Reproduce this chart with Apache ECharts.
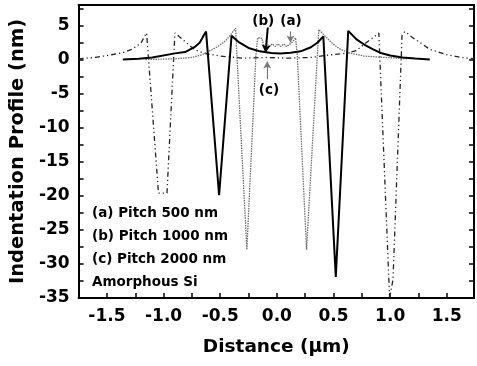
<!DOCTYPE html>
<html>
<head>
<meta charset="utf-8">
<script src="https://cdn.jsdelivr.net/npm/echarts@6/dist/echarts.min.js"></script>
<style>
  html, body { margin: 0; padding: 0; background: #fff; }
  #main { width: 477px; height: 366px; }
</style>
</head>
<body>
<div id="main"></div>
<script>
// distance (um), profile (nm)
const pitch500 = [
  [-1.16, 0], [-0.9, 0.1], [-0.75, 0.3], [-0.66, 0.7], [-0.52, 1.9], [-0.45, 2.8],
  [-0.4, 3.8], [-0.365, 4.6], [-0.265, -27.9], [-0.185, 0.6], [-0.17, 3.2],
  [-0.13, 3.1], [-0.115, 1.9], [-0.09, 2.3], [-0.065, 1.9], [-0.04, 2.3],
  [-0.015, 1.9], [0.01, 2.3], [0.035, 1.9], [0.06, 2.3], [0.085, 1.9],
  [0.11, 2.2], [0.14, 2.6], [0.165, 3.2], [0.18, 0.6], [0.262, -27.9],
  [0.37, 4.4], [0.41, 3.7], [0.48, 2.5], [0.55, 1.6], [0.63, 1.0],
  [0.77, 0.5], [0.91, 0.35], [1.06, 0.2], [1.16, 0.1]
];
const pitch1000 = [
  [-1.36, 0], [-1.22, 0.1], [-1.1, 0.3], [-0.9, 0.9], [-0.81, 1.1], [-0.72, 1.9],
  [-0.68, 2.5], [-0.65, 3.4], [-0.625, 4.1], [-0.51, -19.9], [-0.4, 3.5],
  [-0.34, 2.6], [-0.25, 1.7], [-0.15, 1.2], [-0.05, 0.95], [0.03, 0.9],
  [0.12, 1.0], [0.21, 1.2], [0.3, 1.8], [0.36, 2.5], [0.41, 3.4],
  [0.52, -31.9], [0.63, 4.2], [0.7, 3.0], [0.77, 2.2], [0.85, 1.5],
  [0.91, 1.0], [1.0, 0.6], [1.11, 0.3], [1.22, 0.15], [1.35, 0]
];
const pitch2000 = [
  [-1.75, 0.1], [-1.6, 0.3], [-1.46, 0.7], [-1.36, 1.0], [-1.28, 1.5],
  [-1.2, 2.4], [-1.15, 3.9], [-1.045, -19.6], [-0.97, -19.6], [-0.9, 3.9],
  [-0.85, 3.2], [-0.81, 2.6], [-0.72, 1.4], [-0.64, 0.9], [-0.5, 0.5],
  [-0.3, 0.2], [-0.1, 0.3], [0.1, 0.2], [0.3, 0.3], [0.48, 0.7],
  [0.6, 0.9], [0.7, 1.3], [0.79, 2.5], [0.85, 3.2], [0.9, 3.9],
  [0.995, -35], [1.025, -32.3], [1.105, 3.6], [1.13, 4.1], [1.2, 3.2],
  [1.35, 1.5], [1.5, 0.7], [1.63, 0.3], [1.74, 0.1]
];

const xLabelValues = [-1.5, -1.0, -0.5, 0.0, 0.5, 1.0, 1.5];
const yLabelValues = [-35, -30, -25, -20, -15, -10, -5, 0, 5];
const legendLines = ['(a) Pitch 500 nm', '(b) Pitch 1000 nm', '(c) Pitch 2000 nm', 'Amorphous Si'];

const font = '"DejaVu Sans", Arial, sans-serif';
const near = (v, list) => list.some(t => Math.abs(t - v) < 1e-6);

const chart = echarts.init(document.getElementById('main'), null, { renderer: 'canvas' });

const baseX = {
  type: 'value',
  min: -1.75,
  max: 1.74,
  interval: 0.25,
  splitLine: { show: false },
  axisLine: { onZero: false, lineStyle: { color: '#000', width: 2 } }
};
const baseY = {
  type: 'value',
  min: -35,
  max: 8,
  interval: 2.5,
  splitLine: { show: false },
  axisLine: { onZero: false, lineStyle: { color: '#000', width: 2 } }
};

chart.setOption({
  animation: false,
  backgroundColor: '#fff',
  grid: { left: 76, right: 3, top: 5, bottom: 68 },
  xAxis: [
    {
      ...baseX,
      position: 'bottom',
      name: 'Distance (\u03bcm)',
      nameLocation: 'middle',
      nameGap: 40,
      nameTextStyle: { fontFamily: font, fontWeight: 'bold', fontSize: 18.5, color: '#000' },
      axisTick: { inside: true, length: 5, lineStyle: { color: '#000', width: 1.5 } },
      axisLabel: {
        margin: 10,
        fontFamily: font, fontWeight: 'bold', fontSize: 17, color: '#000',
        formatter: v => near(v, xLabelValues) ? v.toFixed(1) : ''
      }
    },
    {
      ...baseX,
      position: 'top',
      axisTick: { show: false },
      axisLabel: { show: false }
    }
  ],
  yAxis: [
    {
      ...baseY,
      position: 'left',
      name: 'Indentation Profile (nm)',
      nameLocation: 'middle',
      nameGap: 47,
      nameTextStyle: { fontFamily: font, fontWeight: 'bold', fontSize: 19.5, color: '#000' },
      axisTick: { inside: true, length: 5, lineStyle: { color: '#000', width: 1.5 } },
      axisLabel: {
        margin: 9,
        fontFamily: font, fontWeight: 'bold', fontSize: 17, color: '#000',
        formatter: v => near(v, yLabelValues) ? String(v) : ''
      }
    },
    {
      ...baseY,
      position: 'right',
      axisTick: { inside: true, length: 5, lineStyle: { color: '#000', width: 1.5 } },
      axisLabel: { show: false }
    }
  ],
  series: [
    {
      name: '(c) Pitch 2000 nm',
      type: 'line',
      data: pitch2000,
      showSymbol: false,
      clip: true,
      lineStyle: { color: '#222', width: 1.3, type: [5, 3, 1.2, 3, 1.2, 3] },
      markLine: {
        silent: true,
        symbol: ['none', 'arrow'],
        symbolSize: [6, 7],
        label: { show: false },
        lineStyle: { color: '#777', width: 1.2, type: 'solid' },
        data: [[{ coord: [-0.085, -2.9] }, { coord: [-0.085, -0.3] }]]
      },
      markPoint: {
        symbol: 'rect', symbolSize: 1,
        itemStyle: { color: 'rgba(0,0,0,0)' },
        label: { show: true, position: 'inside', fontFamily: font, fontWeight: 'bold', fontSize: 13.5, color: '#000' },
        data: [{ coord: [-0.07, -4.6], value: '(c)', label: { formatter: '(c)' } }]
      }
    },
    {
      name: '(a) Pitch 500 nm',
      type: 'line',
      data: pitch500,
      showSymbol: false,
      clip: true,
      lineStyle: { color: '#6e6e6e', width: 1.3, type: [1.5, 1] },
      markLine: {
        silent: true,
        symbol: ['none', 'arrow'],
        symbolSize: [6, 7],
        label: { show: false },
        lineStyle: { color: '#777', width: 1.2, type: 'solid' },
        data: [[{ coord: [0.12, 4.1] }, { coord: [0.12, 2.5] }]]
      },
      markPoint: {
        symbol: 'rect', symbolSize: 1,
        itemStyle: { color: 'rgba(0,0,0,0)' },
        label: { show: true, position: 'inside', fontFamily: font, fontWeight: 'bold', fontSize: 13.5, color: '#000' },
        data: [{ coord: [0.125, 5.6], value: '(a)', label: { formatter: '(a)' } }]
      }
    },
    {
      name: '(b) Pitch 1000 nm',
      type: 'line',
      data: pitch1000,
      showSymbol: false,
      clip: true,
      lineStyle: { color: '#000', width: 2 },
      markLine: {
        silent: true,
        symbol: ['none', 'arrow'],
        symbolSize: [7, 8],
        label: { show: false },
        lineStyle: { color: '#000', width: 2, type: 'solid' },
        data: [[{ coord: [-0.08, 4.7] }, { coord: [-0.1, 1.0] }]]
      },
      markPoint: {
        symbol: 'rect', symbolSize: 1,
        itemStyle: { color: 'rgba(0,0,0,0)' },
        label: { show: true, position: 'inside', fontFamily: font, fontWeight: 'bold', fontSize: 13.5, color: '#000' },
        data: [{ coord: [-0.12, 5.6], value: '(b)', label: { formatter: '(b)' } }]
      }
    }
  ],
  graphic: legendLines.map((t, i) => ({
    type: 'text',
    left: 92,
    top: 206 + i * 23,
    silent: true,
    style: { text: t, fill: '#000', font: 'bold 13.5px ' + font }
  }))
});
</script>
</body>
</html>
